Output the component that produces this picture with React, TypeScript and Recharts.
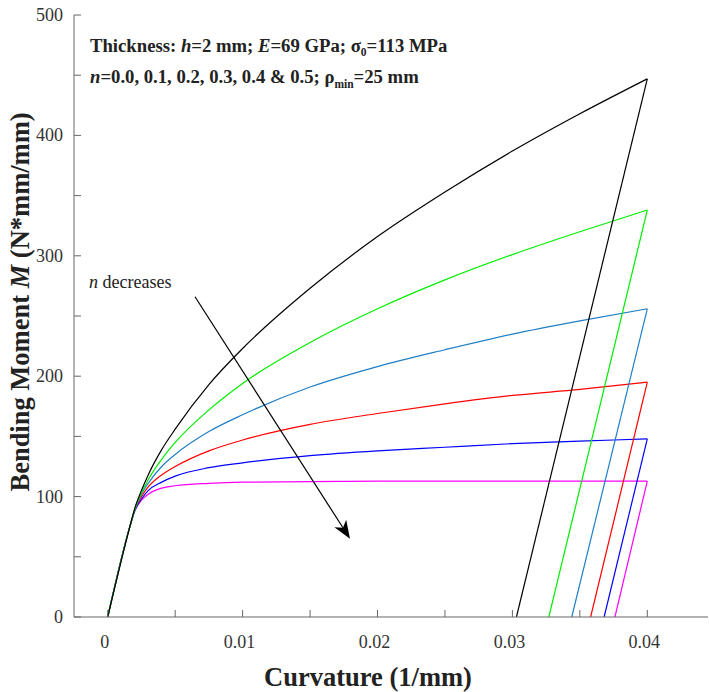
import React from "react";
import {
  LineChart,
  Line,
  XAxis,
  YAxis,
  ReferenceLine,
} from "recharts";

// curvature points (1/mm) used for the loading branch
const curvature = [
  0, 0.00164, 0.002, 0.0025, 0.003, 0.004, 0.005, 0.0075, 0.01, 0.015, 0.02,
  0.025, 0.03, 0.035, 0.04,
];

// bending moment (N*mm/mm), one array per n
const momentN00 = [0, 75, 88, 97, 102, 107, 109, 111, 112, 112.5, 112.8, 112.8, 112.9, 112.9, 112.9];
const momentN01 = [0, 75, 88, 98, 105, 112, 117, 124, 128, 134, 138, 141, 144, 146, 148];
const momentN02 = [0, 75, 89, 100, 108, 118, 125, 138, 147, 160, 169, 177, 184, 189, 195];
const momentN03 = [0, 75, 89, 102, 111, 125, 135, 154, 168, 191, 208, 222, 235, 246, 256];
const momentN04 = [0, 75, 89, 103, 114, 131, 145, 172, 194, 228, 256, 280, 301, 320, 338];
const momentN05 = [0, 75, 90, 105, 118, 139, 156, 193, 223, 273, 316, 353, 387, 418, 447];

// curvature left after elastic unloading to M = 0
const residualCurvature = [0.0376, 0.0368, 0.0358, 0.0344, 0.0327, 0.0303];

const seriesNames = ["n=0.0", "n=0.1", "n=0.2", "n=0.3", "n=0.4", "n=0.5"];
const seriesColors = ["#ff00ff", "#0000ff", "#ff0000", "#1f7fc6", "#00ee00", "#000000"];
const moments = [momentN00, momentN01, momentN02, momentN03, momentN04, momentN05];

const xTicks = [0, 0.005, 0.01, 0.015, 0.02, 0.025, 0.03, 0.035, 0.04];
const xLabels = [0, 0.01, 0.02, 0.03, 0.04];
const yTicks = [0, 50, 100, 150, 200, 250, 300, 350, 400, 450, 500];
const yLabels = [0, 100, 200, 300, 400, 500];

const SERIF = '"Liberation Serif", "Times New Roman", serif';
const FRAME = "#666";
const labelStyle = { fontFamily: SERIF, fontSize: 18, fill: "#333" };
const noteStyle = { fontFamily: SERIF, fontSize: 18.7, fontWeight: "bold" as const, fill: "#222" };
const titleStyle = { fontFamily: SERIF, fontSize: 26.5, fontWeight: "bold" as const, fill: "#222" };

const loading = moments.map((m) => curvature.map((k, i) => ({ k, M: m[i] })));
const unloading = moments.map((m, i) => [
  { k: curvature[curvature.length - 1], M: m[m.length - 1] },
  { k: residualCurvature[i], M: 0 },
]);

const BottomTick = ({ x, y, payload }: any) => {
  const v = payload.value;
  const show = xLabels.some((l) => Math.abs(l - v) < 1e-9);
  return (
    <g>
      <line x1={x} y1={y} x2={x} y2={y - 7} stroke={FRAME} />
      {show && (
        <text x={x - 3} y={y + 30.5} textAnchor="middle" style={labelStyle}>
          {String(v)}
        </text>
      )}
    </g>
  );
};

const TopTick = ({ x, y }: any) => (
  <line x1={x} y1={y} x2={x} y2={y + 7} stroke={FRAME} />
);

const LeftTick = ({ x, y, payload }: any) => {
  const v = payload.value;
  const show = yLabels.includes(v);
  return (
    <g>
      <line x1={x} y1={y} x2={x + 7} y2={y} stroke={FRAME} />
      {show && (
        <text x={x - 11} y={y + 6} textAnchor="end" style={labelStyle}>
          {v}
        </text>
      )}
    </g>
  );
};

const RightTick = ({ x, y }: any) => (
  <line x1={x} y1={y} x2={x - 7} y2={y} stroke={FRAME} />
);

const Arrow = ({ x1, y1, x2, y2 }: any) => {
  const a = Math.atan2(y2 - y1, x2 - x1);
  const L = 18;
  const W = 7;
  const bx = x2 - L * Math.cos(a);
  const by = y2 - L * Math.sin(a);
  const nx = x2 - (L - 5) * Math.cos(a);
  const ny = y2 - (L - 5) * Math.sin(a);
  const px = -Math.sin(a);
  const py = Math.cos(a);
  const pts = [
    [x2, y2],
    [bx + px * W, by + py * W],
    [nx, ny],
    [bx - px * W, by - py * W],
  ]
    .map((p) => p.join(","))
    .join(" ");
  return (
    <g>
      <line x1={x1} y1={y1} x2={nx} y2={ny} stroke="#000" strokeWidth={1.2} />
      <polygon points={pts} fill="#000" />
    </g>
  );
};

export default function App() {
  return (
    <div style={{ position: "absolute", left: 0, top: 0, width: 709, height: 692, background: "#fff" }}>
      <LineChart width={709} height={692} margin={{ top: 15, right: 1, bottom: 0, left: 0 }}>
        <XAxis
          dataKey="k"
          type="number"
          domain={[-0.0025, 0.0445]}
          allowDataOverflow
          ticks={xTicks}
          tick={<BottomTick />}
          tickLine={false}
          tickSize={0}
          tickMargin={0}
          height={75}
          axisLine={{ stroke: FRAME }}
          interval={0}
        />
        <XAxis
          xAxisId="top"
          orientation="top"
          type="number"
          domain={[-0.0025, 0.0445]}
          allowDataOverflow
          ticks={xTicks}
          tick={<TopTick />}
          tickLine={false}
          tickSize={0}
          tickMargin={0}
          height={0}
          axisLine={{ stroke: FRAME }}
          interval={0}
        />
        <YAxis
          type="number"
          domain={[0, 500]}
          allowDataOverflow
          ticks={yTicks}
          tick={<LeftTick />}
          tickLine={false}
          tickSize={0}
          tickMargin={0}
          width={74}
          axisLine={{ stroke: FRAME }}
          interval={0}
        />
        <YAxis
          yAxisId="right"
          orientation="right"
          type="number"
          domain={[0, 500]}
          allowDataOverflow
          ticks={yTicks}
          tick={<RightTick />}
          tickLine={false}
          tickSize={0}
          tickMargin={0}
          width={0}
          axisLine={{ stroke: FRAME }}
          interval={0}
        />
        {loading.map((d, i) => (
          <Line
            key={`load-${seriesNames[i]}`}
            data={d}
            dataKey="M"
            type="monotone"
            stroke={seriesColors[i]}
            strokeWidth={1.2}
            dot={false}
            isAnimationActive={false}
          />
        ))}
        {unloading.map((d, i) => (
          <Line
            key={`unload-${seriesNames[i]}`}
            data={d}
            dataKey="M"
            type="linear"
            stroke={seriesColors[i]}
            strokeWidth={1.2}
            dot={false}
            isAnimationActive={false}
          />
        ))}
        <ReferenceLine
          segment={[
            { x: 0.00647, y: 266 },
            { x: 0.01796, y: 65 },
          ]}
          shape={(p: any) => <Arrow {...p} />}
        />
      </LineChart>

      <svg width={709} height={692} style={{ position: "absolute", left: 0, top: 0, pointerEvents: "none" }}>
        <text transform="translate(29,302) rotate(-90)" textAnchor="middle" style={titleStyle}>
          Bending Moment <tspan fontStyle="italic">M</tspan> (N*mm/mm)
        </text>
        <text x={368} y={686} textAnchor="middle" style={titleStyle}>
          Curvature (1/mm)
        </text>
        <text x={90} y={52} style={noteStyle}>
          Thickness: <tspan fontStyle="italic">h</tspan>=2 mm; <tspan fontStyle="italic">E</tspan>=69 GPa; σ
          <tspan fontSize={11.5} dy={4}>0</tspan>
          <tspan dy={-4}>=113 MPa</tspan>
        </text>
        <text x={90} y={83} style={noteStyle}>
          <tspan fontStyle="italic">n</tspan>=0.0, 0.1, 0.2, 0.3, 0.4 &amp; 0.5; ρ
          <tspan fontSize={11.5} dy={5}>min</tspan>
          <tspan dy={-5}>=25 mm</tspan>
        </text>
        <text x={89} y={288} style={{ fontFamily: SERIF, fontSize: 18, fill: "#222" }}>
          <tspan fontStyle="italic">n</tspan> decreases
        </text>
      </svg>
    </div>
  );
}
